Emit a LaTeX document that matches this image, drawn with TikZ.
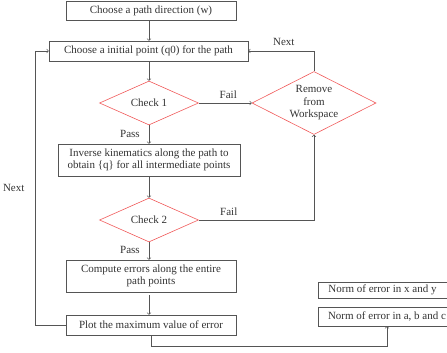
\documentclass[tikz,border=0pt]{standalone}
\usepackage{fontspec}
\setmainfont{Liberation Serif}
\usetikzlibrary{shapes.geometric}
\definecolor{linegray}{HTML}{555555}
\definecolor{textgray}{HTML}{333333}
\definecolor{checkred}{HTML}{F05A5A}
\tikzstyle{block}=[rectangle, draw=linegray, text=textgray, inner sep=0pt, align=center]
\tikzstyle{decision}=[diamond, draw=checkred, text=textgray, aspect=2, inner sep=0pt, align=center]
\tikzstyle{link}=[draw=linegray, ->]
\tikzstyle{tag}=[text=textgray, inner sep=0pt]
\newcommand{\block}{\node[block]}
\newcommand{\decision}{\node[decision]}

\begin{document}
\begin{tikzpicture}[x=1pt, y=-1pt, line width=0.6pt, font=\fontsize{11}{12.5}\selectfont]
            \useasboundingbox (0,0) rectangle (447,353);
            \block[minimum width=170, minimum height=19] (dir) at (151,10.5){Choose a path direction (w)};
            \block[minimum width=199, minimum height=20] (init) at (148.5,51){Choose a initial point (q0) for the path};
            \decision[minimum width=99, minimum height=44] (chk1) at (149,103){Check 1};
            \decision[minimum width=124, minimum height=63] (rem) at (314,103){Remove\\from\\Workspace};
            \block[minimum width=182, minimum height=32] (inv) at (149,160){Inverse kinematics along the path to\\obtain \{q\} for all intermediate points};
            \decision[minimum width=99, minimum height=44] (chk2) at (149,220){Check 2};
            \block[minimum width=170, minimum height=32] (err) at (151,276){Compute errors along the entire\\path points};
            \block[minimum width=170, minimum height=20] (plot) at (151,325){Plot the maximum value of error};
            \block[minimum width=129, minimum height=16] (nxy) at (382.5,290){Norm of error in x and y};
            \block[minimum width=138, minimum height=19] (nabc) at (387,316.5){Norm of error in a, b and c};
            \draw[link] (dir.south -| chk1) -- (init.north -| chk1);
            \draw[link] (init.south -| chk1) -- (chk1.north);
            \draw[link] (chk1.east) -- node[tag, above=4pt, xshift=3pt]{Fail} (rem.west);
            \draw[link] (rem.north) |- node[tag, above=5pt, pos=0.73]{Next} (init.east);
            \draw[link] (chk1.south) -- node[tag, left=9pt, pos=0.45]{Pass} (inv.north -| chk1);
            \draw[link] (inv.south -| chk2) -- (chk2.north);
            \draw[link] (chk2.east) -| node[tag, above=4pt, pos=0.13]{Fail} (rem.south);
            \draw[link] (chk2.south) -- node[tag, left=9pt, pos=0.45]{Pass} (err.north -| chk2);
            \draw[link] (err.south -| chk2) ++(0,3) -- (plot.north -| chk2);
            \draw[link] (plot.west) -- ++(-30,0) |- node[tag, left=11pt, pos=0.25]{Next} (init.west);
            \draw[link] (plot.south) -- ++(0,11) -| (nabc.south);
\end{tikzpicture}
\end{document}
